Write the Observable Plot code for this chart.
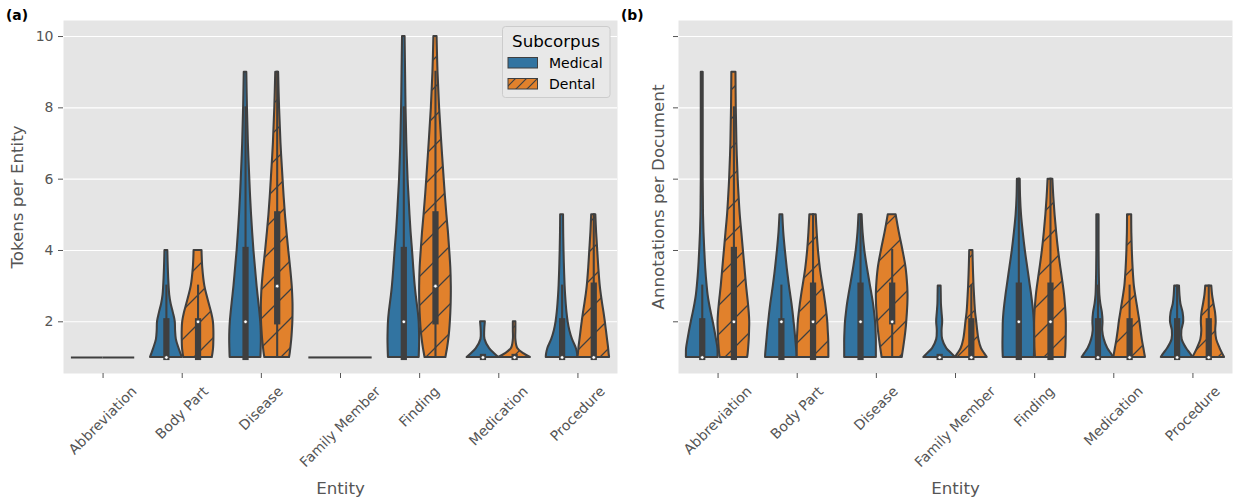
<!DOCTYPE html>
<html><head><meta charset="utf-8">
<script src="https://cdn.jsdelivr.net/npm/d3@7"></script>
<script src="https://cdn.jsdelivr.net/npm/@observablehq/plot@0.6"></script>
<style>
body{margin:0;background:#fff;font-family:"DejaVu Sans",sans-serif;}
#wrap{position:relative;width:1236px;height:500px;overflow:hidden;}
#left{position:absolute;left:0;top:0;}
#right{position:absolute;left:618px;top:0;}
#overlay{position:absolute;left:0;top:0;pointer-events:none;}
</style></head><body>
<svg width="0" height="0" style="position:absolute"><defs>
<pattern id="hatchViolin" patternUnits="userSpaceOnUse" width="29" height="29">
<rect width="29" height="29" fill="#e1812c"/>
<path d="M-3,3 L3,-3 M0,29 L29,0 M26,32 L32,26" stroke="#3f3f3f" stroke-width="1.3"/>
</pattern>
<pattern id="hatchLegend" patternUnits="userSpaceOnUse" width="11" height="11">
<rect width="11" height="11" fill="#e1812c"/>
<path d="M-3,3 L3,-3 M0,11 L11,0 M8,14 L14,8" stroke="#3f3f3f" stroke-width="1.2"/>
</pattern>
</defs></svg>
<div id="wrap"><div id="left"></div><div id="right"></div><svg id="overlay" width="1236" height="500"></svg></div>
<script>
const entities = ["Abbreviation","Body Part","Disease","Family Member","Finding","Medication","Procedure"];
const subcorpora = ["Medical","Dental"];
const levels = [1,1.1,1.25,1.5,1.75,2,2.25,2.5,2.75,3,3.5,4,4.5,5,5.5,6,7,8,9,10];
const yTicks = [2,4,6,8,10];

// relative violin half-widths at each level, per entity
const tokensMedicalWidth = [
  [1],
  [1.0,0.92,0.8,0.63,0.58,0.56,0.44,0.3,0.21,0.17,0.12,0.09],
  [0.97,0.98,0.99,1.0,0.99,0.96,0.91,0.85,0.79,0.73,0.63,0.53,0.45,0.38,0.32,0.27,0.18,0.12,0.08],
  [1],
  [0.97,0.98,0.99,1.0,0.99,0.97,0.92,0.85,0.78,0.72,0.63,0.55,0.46,0.39,0.33,0.27,0.19,0.14,0.11,0.08],
  [1.0,0.75,0.42,0.13,0.11,0.15],
  [1.0,0.98,0.9,0.66,0.49,0.38,0.31,0.26,0.22,0.19,0.15,0.12,0.1,0.09]
];
const tokensDentalWidth = [
  [1],
  [0.9,0.94,0.98,1.0,1.0,0.97,0.86,0.71,0.56,0.43,0.3,0.25],
  [0.78,0.82,0.86,0.92,0.96,0.99,1.0,1.0,0.98,0.95,0.85,0.73,0.62,0.52,0.44,0.37,0.24,0.15,0.09],
  [1],
  [0.66,0.7,0.76,0.84,0.9,0.94,0.97,0.99,1.0,1.0,0.97,0.9,0.82,0.72,0.63,0.55,0.4,0.26,0.16,0.1],
  [1.0,0.6,0.2,0.08,0.08,0.08],
  [1.0,0.97,0.94,0.87,0.8,0.73,0.65,0.56,0.48,0.41,0.32,0.25,0.18,0.13]
];
const docsMedicalWidth = [
  [1.0,1.0,0.99,0.9,0.8,0.69,0.57,0.46,0.37,0.31,0.22,0.16,0.11,0.08,0.07,0.06,0.06,0.06,0.06],
  [1.0,0.99,0.96,0.91,0.86,0.8,0.74,0.67,0.59,0.51,0.37,0.25,0.15,0.09],
  [1.0,1.0,1.0,1.0,0.98,0.95,0.89,0.82,0.73,0.63,0.44,0.27,0.16,0.1],
  [1.0,0.78,0.45,0.19,0.15,0.19,0.15,0.11,0.1,0.09],
  [0.98,0.99,1.0,1.0,0.99,0.98,0.94,0.88,0.81,0.73,0.57,0.41,0.28,0.17,0.11,0.09],
  [1.0,0.85,0.62,0.4,0.3,0.32,0.28,0.18,0.12,0.1,0.08,0.07,0.07,0.07],
  [1.0,0.85,0.6,0.32,0.3,0.42,0.38,0.24,0.18,0.15]
];
const docsDentalWidth = [
  [0.87,0.9,0.93,0.97,0.99,1.0,0.97,0.92,0.86,0.8,0.7,0.6,0.5,0.4,0.33,0.27,0.19,0.15,0.13],
  [1.0,1.0,1.0,0.99,0.96,0.93,0.87,0.8,0.72,0.63,0.46,0.34,0.26,0.2],
  [0.64,0.67,0.72,0.8,0.87,0.92,0.96,0.99,1.0,0.98,0.88,0.68,0.45,0.25],
  [1.0,0.85,0.64,0.48,0.4,0.34,0.27,0.23,0.2,0.17,0.13,0.1],
  [0.95,0.96,0.98,0.99,1.0,1.0,0.98,0.94,0.89,0.82,0.66,0.51,0.39,0.29,0.21,0.15],
  [1.0,0.96,0.9,0.8,0.72,0.65,0.56,0.47,0.38,0.3,0.22,0.17,0.14,0.13],
  [1.0,0.88,0.72,0.5,0.44,0.47,0.43,0.33,0.24,0.19]
];
// inner box stats: [q1, median, q3, whiskerLow, whiskerHigh]
const tokensMedicalBox = [null,[1,1,2,1,3],[1,2,4,1,8],null,[1,2,4,1,8],[1,1,1,1,1],[1,1,2,1,3]];
const tokensDentalBox  = [null,[1,2,2,1,3],[2,3,5,1,9],null,[2,3,5,1,9],[1,1,1,1,1],[1,1,3,1,5]];
const docsMedicalBox = [[1,1,2,1,3],[1,2,2,1,3],[1,2,3,1,5],[1,1,1,1,1],[1,2,3,1,6],[1,1,2,1,3],[1,1,2,1,3]];
const docsDentalBox  = [[1,2,4,1,8],[1,2,3,1,5],[2,2,3,1,4],[1,1,2,1,3],[1,2,3,1,6],[1,1,2,1,3],[1,1,2,1,3]];

const COLORS = {Medical: "#3274a1", Dental: "url(#hatchViolin)"};
const GRAY = "#3f3f3f";
const LW = 2.08;

function buildRows(widthArr, sub) {
  const off = sub === "Medical" ? -0.2 : 0.2;
  const area = [], single = [];
  widthArr.forEach((ws, i) => {
    if (ws.length === 1) single.push({c: i + off, y: levels[0]});
    else ws.forEach((w, k) => area.push({key: sub + i, c: i + off, y: levels[k], w}));
  });
  return {area, single};
}
function buildBox(boxArr, sub) {
  const off = sub === "Medical" ? -0.2 : 0.2;
  return boxArr.map((b, i) => b && {c: i + off, q1: b[0], med: b[1], q3: b[2], lo: b[3], hi: b[4]}).filter(Boolean);
}

function panel({medW, denW, medB, denB, ylabel, showY, marginLeft, marginRight, yLabelOffset}) {
  const m = buildRows(medW, "Medical"), d = buildRows(denW, "Dental");
  const boxes = buildBox(medB, "Medical").concat(buildBox(denB, "Dental"));
  const singles = m.single.concat(d.single);
  const violin = (rows, sub) => Plot.areaX(rows, {
    y: "y", x1: r => r.c - 0.2 * r.w, x2: r => r.c + 0.2 * r.w, z: "key",
    fill: COLORS[sub], stroke: GRAY, strokeWidth: LW, strokeLinejoin: "round", curve: "catmull-rom"
  });
  return Plot.plot({
    width: 618, height: 500,
    marginLeft, marginRight, marginTop: 20, marginBottom: 127,
    x: {domain: [-0.5, 6.5], axis: null},
    y: {domain: [0.55, 10.45], axis: null},
    style: {fontFamily: "DejaVu Sans", background: "white", overflow: "visible"},
    marks: [
      Plot.frame({fill: "#e5e5e5", stroke: "none"}),
      Plot.gridY({ticks: yTicks, stroke: "#ffffff", strokeOpacity: 1, strokeWidth: 1.1}),
      violin(m.area, "Medical"),
      violin(d.area, "Dental"),
      Plot.ruleY(singles, {y: "y", x1: r => r.c - 0.2, x2: r => r.c + 0.2, stroke: GRAY, strokeWidth: LW}),
      Plot.ruleX(boxes, {x: "c", y1: "lo", y2: "hi", stroke: GRAY, strokeWidth: LW, strokeLinecap: "square"}),
      Plot.ruleX(boxes, {x: "c", y1: "q1", y2: "q3", stroke: GRAY, strokeWidth: 6.25, strokeLinecap: "square"}),
      Plot.dot(boxes, {x: "c", y: "med", r: 1.8, fill: "white", stroke: GRAY, strokeWidth: 0.7}),
      Plot.axisY({ticks: yTicks, tickSize: 5, tickPadding: 5, fontSize: 14, color: "#555555", label: null,
                  tickFormat: showY ? (v => String(v)) : (() => "")}),
      Plot.axisY({ticks: [], tickSize: 0, label: ylabel, labelAnchor: "center", labelArrow: "none",
                  labelOffset: yLabelOffset, fontSize: 16.7, color: "#555555"}),
      Plot.axisX({ticks: d3.range(entities.length), tickFormat: i => entities[i], tickRotate: -45,
                  tickSize: 5, fontSize: 14, color: "#555555", label: null}),
      Plot.axisX({ticks: [], tickSize: 0, label: "Entity", labelAnchor: "center", labelArrow: "none",
                  labelOffset: 120, fontSize: 16.7, color: "#555555"})
    ]
  });
}

function fixTickLabels(svg, top) {
  svg.querySelectorAll('g[aria-label="x-axis tick label"]').forEach(g => {
    g.removeAttribute("transform");
    g.querySelectorAll("text").forEach(t => {
      const m = /translate\(([-\d.e]+)[ ,]+([-\d.e]+)\)/.exec(t.getAttribute("transform") || "");
      const tx = m ? +m[1] : 0;
      const L = t.getComputedTextLength();
      const S = (L + 1.17 * 14) * Math.SQRT1_2;
      t.setAttribute("transform", `translate(${tx},${top + S / 2}) rotate(-45)`);
      t.setAttribute("text-anchor", "middle");
      t.removeAttribute("dy");
      t.setAttribute("y", "0.35em");
    });
  });
}

const left = panel({medW: tokensMedicalWidth, denW: tokensDentalWidth, medB: tokensMedicalBox, denB: tokensDentalBox,
  ylabel: "Tokens per Entity", showY: true, marginLeft: 63, marginRight: 1, yLabelOffset: 52});
const right = panel({medW: docsMedicalWidth, denW: docsDentalWidth, medB: docsMedicalBox, denB: docsDentalBox,
  ylabel: "Annotations per Document", showY: false, marginLeft: 60, marginRight: 4, yLabelOffset: 26});
document.getElementById("left").appendChild(left);
document.getElementById("right").appendChild(right);
fixTickLabels(left, 383);
fixTickLabels(right, 383);

// overlay: panel tags and legend
const ov = d3.select("#overlay").style("font-family", "DejaVu Sans");
ov.append("text").attr("x", 6).attr("y", 19.5).attr("font-weight", "bold").attr("font-size", 13.9).attr("fill", "#000").text("(a)");
ov.append("text").attr("x", 621).attr("y", 19.5).attr("font-weight", "bold").attr("font-size", 13.9).attr("fill", "#000").text("(b)");
ov.append("rect").attr("x", 502.5).attr("y", 26.5).attr("width", 107.5).attr("height", 71).attr("rx", 3)
  .attr("fill", "#e8e8e8").attr("stroke", "#cccccc").attr("stroke-width", 1);
ov.append("text").attr("x", 556).attr("y", 46.5).attr("text-anchor", "middle").attr("font-size", 16.7).attr("fill", "#000").text("Subcorpus");
const legendFill = {Medical: "#3274a1", Dental: "url(#hatchLegend)"};
subcorpora.forEach((s, i) => {
  const y0 = 57.5 + i * 21;
  ov.append("rect").attr("x", 508).attr("y", y0).attr("width", 29.5).attr("height", 10.5)
    .attr("fill", legendFill[s]).attr("stroke", GRAY).attr("stroke-width", 1);
  ov.append("text").attr("x", 549).attr("y", y0 + 10.5).attr("font-size", 14).attr("fill", "#000").text(s);
});
</script>
</body></html>
